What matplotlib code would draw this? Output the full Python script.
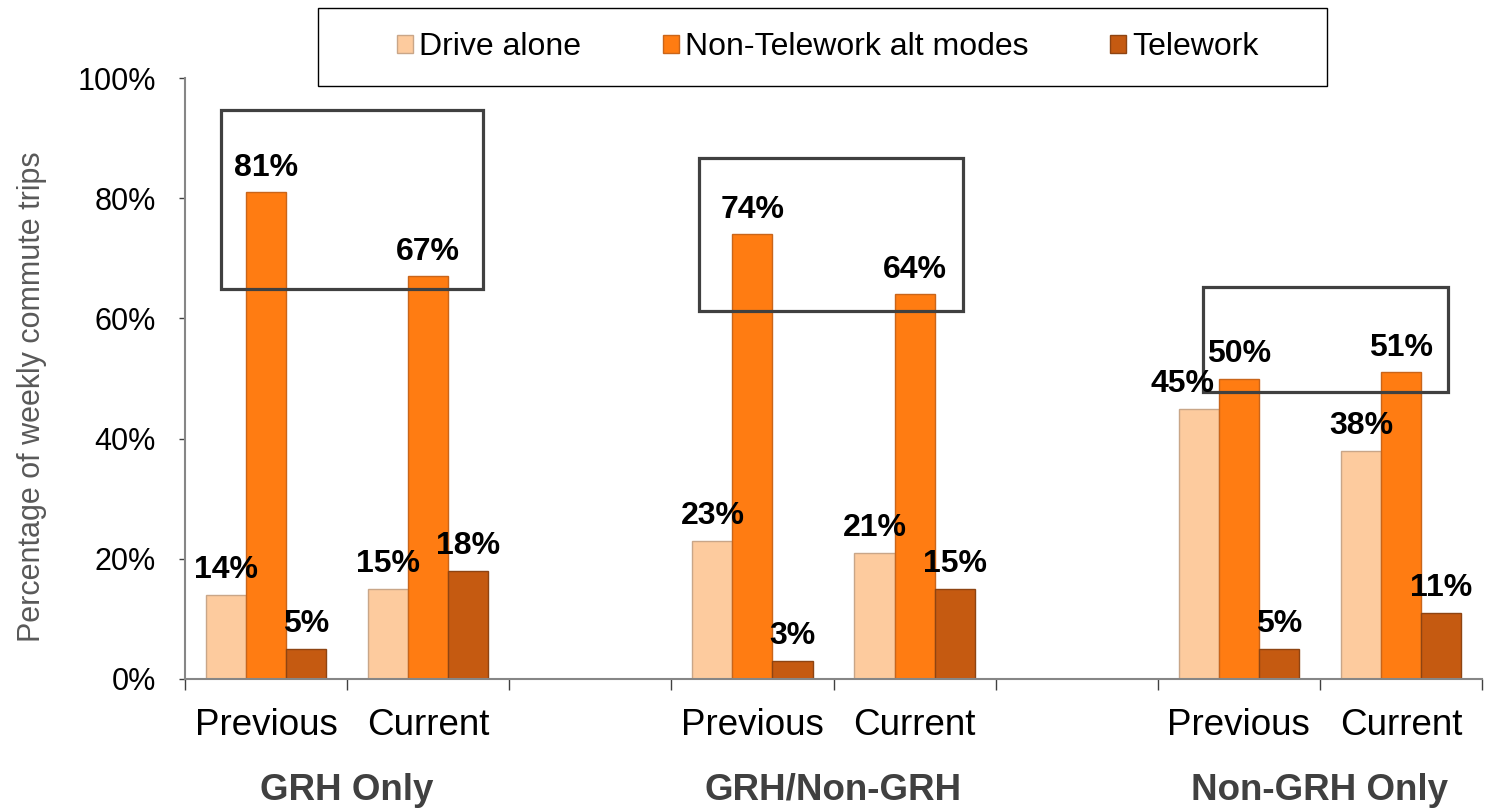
import matplotlib
matplotlib.use("Agg")
import matplotlib.pyplot as plt
from matplotlib.patches import Rectangle, Patch
import numpy as np

plt.rcParams['font.family'] = ['Liberation Sans', 'DejaVu Sans']

groups = ["GRH Only", "GRH/Non-GRH", "Non-GRH Only"]
periods = ["Previous", "Current"]
series = ["Drive alone", "Non-Telework alt modes", "Telework"]

# one value per period, groups in order
drive_alone = [14, 15, 23, 21, 45, 38]
alt_modes = [81, 67, 74, 64, 50, 51]
telework = [5, 18, 3, 15, 5, 11]

colors = ["#FDCB9E", "#FF7C12", "#C55A11"]
edges = ["#C9A688", "#C9651A", "#8E4412"]

# slot index of each bar pair (a blank slot between groups)
slots = [0, 1, 3, 4, 6, 7]

# highlight frames around the alt-mode bars: x0, x1, y0, y1
frames = [(-0.28, 1.34, 64.9, 94.7),
          (2.67, 4.30, 61.2, 86.7),
          (5.78, 7.29, 47.8, 65.2)]

fig = plt.figure(figsize=(14.86, 8.09), dpi=100)
ax = fig.add_axes([185 / 1486, 1 - 679 / 809, 1297 / 1486, 601 / 809])

w = 0.247
offsets = [-w, 0, w]
for vals, off, c, ec, name in zip([drive_alone, alt_modes, telework], offsets, colors, edges, series):
    x = np.array(slots) + off
    ax.bar(x, vals, width=w, color=c, edgecolor=ec, linewidth=1.0, label=name, zorder=2)
    for xi, v in zip(x, vals):
        dx = 0
        if name == "Drive alone" and v == 45:
            dx = -12
        ax.annotate(f"{v}%", (xi, v), xytext=(dx, 12), textcoords="offset points",
                    ha="center", va="baseline", fontsize=23, fontweight="bold", zorder=4)

for x0, x1, y0, y1 in frames:
    ax.add_patch(Rectangle((x0, y0), x1 - x0, y1 - y0, fill=False,
                           edgecolor="#404040", linewidth=2.3, zorder=3))

ax.set_xlim(-0.5, 7.5)
ax.set_ylim(0, 100)
ax.set_yticks(range(0, 101, 20))
ax.set_yticklabels([f"{t}%" for t in range(0, 101, 20)], fontsize=22)
ax.tick_params(axis="y", length=4, width=1, color="#404040", pad=17)

ax.set_xticks(slots)
ax.set_xticklabels(periods * 3, fontsize=26.5)
ax.tick_params(axis="x", which="major", length=0, pad=21)
ax.set_xticks(np.arange(-0.5, 8, 1), minor=True)
ax.tick_params(axis="x", which="minor", length=8, width=1, color="#404040")

for s in ["top", "right"]:
    ax.spines[s].set_visible(False)
for s in ["left", "bottom"]:
    ax.spines[s].set_color("#868686")
    ax.spines[s].set_linewidth(1.5)

for i, g in enumerate(groups):
    ax.text(slots[2 * i] + 0.5, -0.185, g, transform=ax.get_xaxis_transform(),
            ha="center", va="center", fontsize=26.5, fontweight="bold", color="#404040")

fig.text(32 / 1486, 1 - 397 / 809, "Percentage of weekly commute trips",
         rotation=90, ha="center", va="center", fontsize=22, color="#595959")

# legend with a plain rectangular frame
fig.add_artist(Rectangle((318 / 1486, 1 - 86 / 809), 1009 / 1486, 78 / 809,
                         transform=fig.transFigure, fill=False, edgecolor="black", linewidth=1.0))
handles = [Patch(facecolor=c, edgecolor=ec, linewidth=1.0) for c, ec in zip(colors, edges)]
fig.legend(handles, series, loc="center", bbox_to_anchor=(828 / 1486, 1 - 47 / 809),
           ncol=3, frameon=False, fontsize=23, handlelength=0.5, handleheight=0.5,
           handletextpad=0.2, columnspacing=2.55)

fig.savefig("out.png", dpi=100)
